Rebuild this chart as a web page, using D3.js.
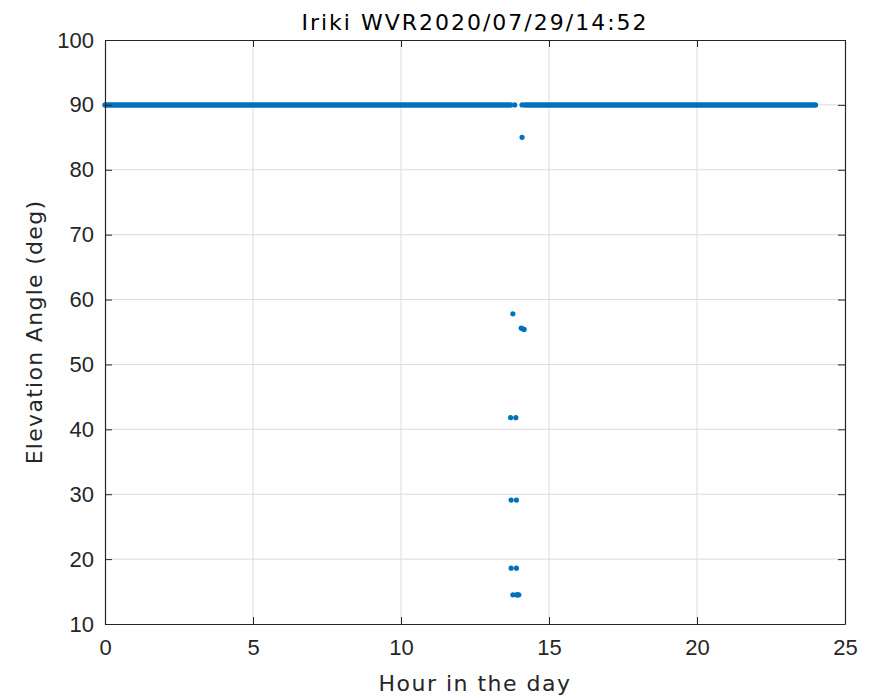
<!DOCTYPE html>
<html><head><meta charset="utf-8">
<script src="https://cdn.jsdelivr.net/npm/d3@7"></script>
<style>body{margin:0;background:#fff}svg{display:block}text{font-family:"DejaVu Sans",sans-serif}</style>
</head><body>
<svg id="c" width="874" height="698"></svg>
<script>
const title = "Iriki WVR2020/07/29/14:52";
const xLabel = "Hour in the day";
const yLabel = "Elevation Angle (deg)";
const xTicks = [0, 5, 10, 15, 20, 25];
const yTicks = [10, 20, 30, 40, 50, 60, 70, 80, 90, 100];
// Continuous runs of the 90° zenith observations: [start hour, end hour]
const zenithRuns = [[0.0, 13.70], [14.19, 24.0]];
const zenithElev = 90;
// Individual samples (hour, elevation)
const pointHours = [13.84, 14.09, 14.09, 13.78, 14.06, 14.11, 14.16, 13.70, 13.88, 13.72, 13.90, 13.72, 13.90, 13.78, 13.90, 13.94, 13.98];
const pointElev  = [90.0, 90.0, 85.0, 57.8, 55.6, 55.5, 55.4, 41.8, 41.8, 29.1, 29.1, 18.6, 18.6, 14.5, 14.5, 14.5, 14.5];

const svg = d3.select("#c");
const m = {l:105, r:845, t:40, b:624};
const x = d3.scaleLinear().domain([0,25]).range([m.l, m.r]);
const y = d3.scaleLinear().domain([10,100]).range([m.b, m.t]);
const col = "#0072BD", axc = "#262626";

// grid
svg.append("g").selectAll("line").data(xTicks.slice(1,-1)).join("line")
  .attr("x1", d=>x(d)).attr("x2", d=>x(d)).attr("y1", m.t).attr("y2", m.b)
  .attr("stroke", "#dcdcdc").attr("stroke-width", 1);
svg.append("g").selectAll("line").data(yTicks.slice(1,-1)).join("line")
  .attr("y1", d=>y(d)).attr("y2", d=>y(d)).attr("x1", m.l).attr("x2", m.r)
  .attr("stroke", "#dcdcdc").attr("stroke-width", 1);

// data
svg.append("g").selectAll("line").data(zenithRuns).join("line")
  .attr("x1", d=>x(d[0])).attr("x2", d=>x(d[1]))
  .attr("y1", y(zenithElev)).attr("y2", y(zenithElev))
  .attr("stroke", col).attr("stroke-width", 5.5).attr("stroke-linecap", "round");
svg.append("g").selectAll("circle").data(pointHours.map((h,i)=>[h, pointElev[i]])).join("circle")
  .attr("cx", d=>x(d[0])).attr("cy", d=>y(d[1])).attr("r", 2.6).attr("fill", col);

// axes
const ax = svg.append("g").attr("transform", `translate(0,${m.b})`)
  .call(d3.axisBottom(x).tickValues(xTicks).tickSizeInner(-7).tickSizeOuter(0).tickPadding(15));
const ay = svg.append("g").attr("transform", `translate(${m.l},0)`)
  .call(d3.axisLeft(y).tickValues(yTicks).tickSizeInner(-7).tickSizeOuter(0).tickPadding(11));
const axT = svg.append("g").attr("transform", `translate(0,${m.t})`)
  .call(d3.axisTop(x).tickValues(xTicks).tickSizeInner(-7).tickSizeOuter(0).tickFormat(""));
const ayR = svg.append("g").attr("transform", `translate(${m.r},0)`)
  .call(d3.axisRight(y).tickValues(yTicks).tickSizeInner(-7).tickSizeOuter(0).tickFormat(""));
[ax, ay, axT, ayR].forEach(g => {
  g.selectAll("path").attr("stroke", axc).attr("stroke-width", 1.2);
  g.selectAll("line").attr("stroke", axc).attr("stroke-width", 1);
  g.selectAll("text").attr("fill", axc).style("font-size", "22px")
   .style("font-family", '"Liberation Sans",Arial,sans-serif');
});

svg.append("text").attr("x", (m.l+m.r)/2).attr("y", 30).attr("text-anchor", "middle")
  .style("font-size", "22px").style("letter-spacing", "2px").attr("fill", "#000").text(title);
svg.append("text").attr("x", (m.l+m.r)/2).attr("y", 691).attr("text-anchor", "middle")
  .style("font-size", "22px").style("letter-spacing", "1.5px").attr("fill", axc).text(xLabel);
svg.append("text").attr("transform", `translate(42,${(m.t+m.b)/2}) rotate(-90)`).attr("text-anchor", "middle")
  .style("font-size", "22px").style("letter-spacing", "1.3px").attr("fill", axc).text(yLabel);
</script>
</body></html>
